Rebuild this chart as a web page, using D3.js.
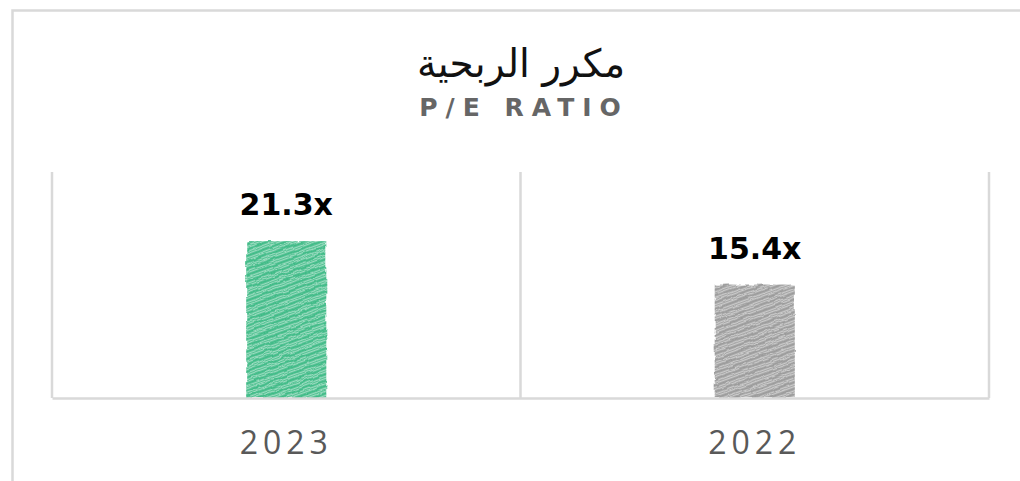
<!DOCTYPE html>
<html>
<head>
<meta charset="utf-8">
<script src="https://cdn.jsdelivr.net/npm/d3@7"></script>
<style>
  body { margin: 0; background: #fff; }
  svg { display: block; }
</style>
</head>
<body>
<div id="chart"></div>
<script>
var svgWidth = 1020;
var svgHeight = 481;

// chart data
var categories = ["2023", "2022"];
var peValues = [21.3, 15.4];
var valueLabels = ["21.3x", "15.4x"];
var titleAr = "مكرر الربحية";
var titleEn = "P/E RATIO";

var margin = { top: 172, right: 31, bottom: 83, left: 52 };
var width = svgWidth - margin.left - margin.right;
var height = svgHeight - margin.top - margin.bottom;

var barColors = ["#3dba85", "#9a9a9a"];
var gridColor = "#d9d9d9";

var svg = d3.select("#chart")
    .append("svg")
    .attr("width", svgWidth)
    .attr("height", svgHeight);

// outer frame (only top and left edges are visible)
svg.append("rect")
    .attr("x", 12.5)
    .attr("y", 10.5)
    .attr("width", svgWidth + 20)
    .attr("height", svgHeight + 20)
    .attr("fill", "none")
    .attr("stroke", gridColor)
    .attr("stroke-width", 2.5);

// hand-drawn look: hatch patterns + rough filter
var defs = svg.append("defs");

var filter = defs.append("filter")
    .attr("id", "rough")
    .attr("x", "-10%").attr("y", "-10%")
    .attr("width", "120%").attr("height", "120%");
filter.append("feTurbulence")
    .attr("type", "fractalNoise")
    .attr("baseFrequency", 0.1)
    .attr("numOctaves", 2)
    .attr("seed", 3)
    .attr("result", "noise");
filter.append("feDisplacementMap")
    .attr("in", "SourceGraphic")
    .attr("in2", "noise")
    .attr("scale", 4)
    .attr("xChannelSelector", "R")
    .attr("yChannelSelector", "G");

barColors.forEach(function (c, i) {
    var p = defs.append("pattern")
        .attr("id", "hatch" + i)
        .attr("patternUnits", "userSpaceOnUse")
        .attr("width", 60)
        .attr("height", 6)
        .attr("patternTransform", "rotate(-20)");
    p.append("line")
        .attr("x1", 0).attr("x2", 60)
        .attr("y1", 1.5).attr("y2", 1.5)
        .attr("stroke", c)
        .attr("stroke-width", 2.6);
    p.append("line")
        .attr("x1", 0).attr("x2", 60)
        .attr("y1", 4.5).attr("y2", 4.5)
        .attr("stroke", c)
        .attr("stroke-width", 1.6)
        .attr("stroke-opacity", 0.8);
});

var chartGroup = svg.append("g")
    .attr("transform", `translate(${margin.left}, ${margin.top})`);

var data = categories.map(function (c, i) {
    return { cat: c, value: peValues[i], label: valueLabels[i], idx: i };
});

var xBandScale = d3.scaleBand()
    .domain(categories)
    .range([0, width])
    .padding(0);

var yLinearScale = d3.scaleLinear()
    .domain([0, 30.7])
    .range([height, 0]);

var barWidth = 80;

// category dividers
var dividers = categories.map(function (c) { return xBandScale(c); }).concat([width]);
chartGroup.selectAll(".divider")
    .data(dividers)
    .enter()
    .append("line")
    .attr("class", "divider")
    .attr("x1", d => d)
    .attr("x2", d => d)
    .attr("y1", yLinearScale(30.7))
    .attr("y2", height)
    .attr("stroke", gridColor)
    .attr("stroke-width", 2.5);

// bars
var bars = chartGroup.selectAll(".bar")
    .data(data)
    .enter()
    .append("g")
    .attr("class", "bar")
    .attr("filter", "url(#rough)");

bars.append("rect")
    .attr("x", d => xBandScale(d.cat) + (xBandScale.bandwidth() - barWidth) / 2)
    .attr("y", d => yLinearScale(d.value))
    .attr("width", barWidth)
    .attr("height", d => height - yLinearScale(d.value))
    .attr("fill", d => barColors[d.idx])
    .attr("fill-opacity", 0.4);

bars.append("rect")
    .attr("x", d => xBandScale(d.cat) + (xBandScale.bandwidth() - barWidth) / 2)
    .attr("y", d => yLinearScale(d.value))
    .attr("width", barWidth)
    .attr("height", d => height - yLinearScale(d.value))
    .attr("fill", d => `url(#hatch${d.idx})`);

// value labels
chartGroup.selectAll(".value-label")
    .data(data)
    .enter()
    .append("text")
    .attr("class", "value-label")
    .attr("x", d => xBandScale(d.cat) + xBandScale.bandwidth() / 2)
    .attr("y", d => yLinearScale(d.value) - 26)
    .attr("text-anchor", "middle")
    .attr("font-family", "DejaVu Sans, Verdana, sans-serif")
    .attr("font-weight", "bold")
    .attr("font-size", 30)
    .attr("fill", "#000")
    .text(d => d.label);

// x axis
var bottomAxis = d3.axisBottom(xBandScale).tickSize(0).tickPadding(33);
var xAxis = chartGroup.append("g")
    .attr("transform", `translate(0, ${height})`)
    .call(bottomAxis);
xAxis.select(".domain")
    .attr("stroke", gridColor)
    .attr("stroke-width", 2.5);
xAxis.selectAll("text")
    .attr("font-family", "Open Sans, Noto Sans, sans-serif")
    .attr("font-size", 32)
    .attr("letter-spacing", 5)
    .attr("fill", "#595959");

// titles
svg.append("text")
    .attr("x", 521)
    .attr("y", 77)
    .attr("text-anchor", "middle")
    .attr("direction", "rtl")
    .attr("font-family", "DejaVu Sans, Noto Sans, sans-serif")
    .attr("font-size", 39)
    .attr("fill", "#111")
    .text(titleAr);

svg.append("text")
    .attr("x", 524)
    .attr("y", 116)
    .attr("text-anchor", "middle")
    .attr("font-family", "DejaVu Sans, Verdana, sans-serif")
    .attr("font-weight", "bold")
    .attr("font-size", 25)
    .attr("letter-spacing", 8)
    .attr("fill", "#666")
    .text(titleEn);
</script>
</body>
</html>
